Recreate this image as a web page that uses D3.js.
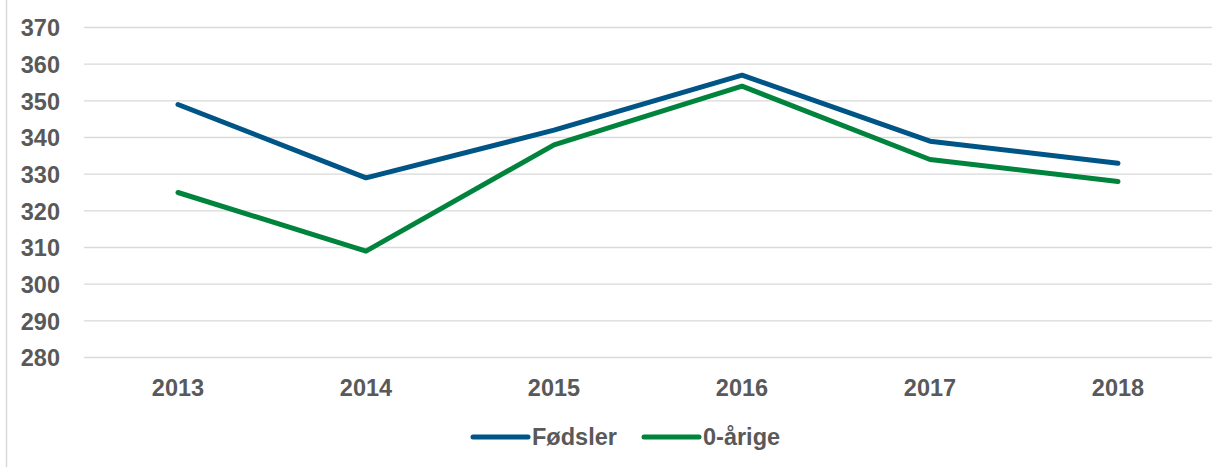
<!DOCTYPE html>
<html>
<head>
<meta charset="utf-8">
<script src="https://cdn.jsdelivr.net/npm/d3@7"></script>
<style>
  body { margin: 0; background: #fff; }
  svg text { font-family: "Liberation Sans", Arial, sans-serif; font-weight: bold; fill: #595959; }
</style>
</head>
<body>
<svg id="chart" width="1229" height="467"></svg>
<script>
const years    = ['2013', '2014', '2015', '2016', '2017', '2018'];
const fodsler  = [349, 329, 342, 357, 339, 333];
const nulArige = [325, 309, 338, 354, 334, 328];
const yTicks   = [280, 290, 300, 310, 320, 330, 340, 350, 360, 370];

const series = [
    { name: 'Fødsler', values: fodsler,  color: '#005587' },
    { name: '0-årige', values: nulArige, color: '#00843d' }
];

const LEFT   = 84;
const RIGHT  = 1212;
const TOP    = 27.5;
const BOTTOM = 357.5;
const FONT   = 23.5;

const svg = d3.select('#chart');

// left edge of the chart frame
svg.append('line')
    .attr('x1', 6.5).attr('x2', 6.5)
    .attr('y1', 0).attr('y2', 467)
    .attr('stroke', '#d9d9d9')
    .attr('stroke-width', 1.5);

const x = d3.scaleBand()
    .domain(years)
    .range([LEFT, RIGHT]);

const y = d3.scaleLinear()
    .domain([280, 370])
    .range([BOTTOM, TOP]);

// gridlines
svg.append('g')
    .selectAll('line')
    .data(yTicks)
    .join('line')
    .attr('x1', LEFT).attr('x2', RIGHT)
    .attr('y1', d => y(d)).attr('y2', d => y(d))
    .attr('stroke', '#d9d9d9')
    .attr('stroke-width', 1.3);

// y axis labels
const yAxis = svg.append('g')
    .attr('transform', `translate(${LEFT - 24},0)`)
    .call(d3.axisLeft(y).tickValues(yTicks).tickSize(0).tickPadding(0));
yAxis.select('.domain').remove();
yAxis.selectAll('text')
    .attr('font-size', FONT)
    .attr('dy', '0.36em')
    .style('font-family', null);

// x axis labels
const xAxis = svg.append('g')
    .attr('transform', `translate(0,${BOTTOM})`)
    .call(d3.axisBottom(x).tickSize(0).tickPadding(0));
xAxis.select('.domain').remove();
xAxis.selectAll('text')
    .attr('font-size', FONT)
    .attr('y', 38)
    .attr('dy', 0)
    .style('font-family', null);

const line = d3.line()
    .x((d, i) => x(years[i]) + x.bandwidth() / 2)
    .y(d => y(d));

svg.append('g')
    .selectAll('path')
    .data(series)
    .join('path')
    .attr('d', d => line(d.values))
    .attr('fill', 'none')
    .attr('stroke', d => d.color)
    .attr('stroke-width', 5)
    .attr('stroke-linecap', 'round')
    .attr('stroke-linejoin', 'round');

// legend
const legendX = [473, 644];
const legend = svg.append('g')
    .selectAll('g')
    .data(series)
    .join('g')
    .attr('transform', (d, i) => `translate(${legendX[i]},437)`);

legend.append('line')
    .attr('x1', 0).attr('x2', 55)
    .attr('stroke', d => d.color)
    .attr('stroke-width', 5)
    .attr('stroke-linecap', 'round');

legend.append('text')
    .attr('x', 59)
    .attr('dy', '0.36em')
    .attr('font-size', FONT)
    .text(d => d.name);
</script>
</body>
</html>
